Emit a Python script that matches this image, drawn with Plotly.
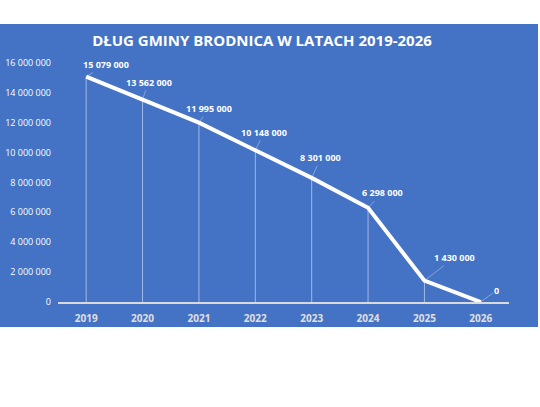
import plotly.graph_objects as go

# Data
years = ["2019", "2020", "2021", "2022", "2023", "2024", "2025", "2026"]
debt = [15079000, 13562000, 11995000, 10148000, 8301000, 6298000, 1430000, 0]
y_ticks = [0, 2000000, 4000000, 6000000, 8000000, 10000000, 12000000, 14000000, 16000000]

# label offsets in pixels (dx, dy) relative to point
label_offsets = [(20, -12), (6, -17), (10, -14), (9, -18), (9, -20), (14, -15), (30, -23), (16, -12)]

W, H = 540, 407
ml, mr, mt, mb = 58, 31, 55, 105
blue = "#4472C4"

fig = go.Figure()

fig.add_trace(go.Scatter(
    x=years,
    y=debt,
    mode="lines",
    line=dict(color="white", width=4),
    error_y=dict(type="data", symmetric=False, array=[0] * len(debt), arrayminus=debt,
                 width=0, thickness=1, color="rgba(255,255,255,0.5)"),
    hoverinfo="x+y",
    showlegend=False,
))

for i, (v, (dx, dy)) in enumerate(zip(debt, label_offsets)):
    fig.add_annotation(
        x=i, y=v, ax=dx, ay=dy,
        xref="x", yref="y",
        text="<b>" + f"{v:,}".replace(",", " ") + "</b>",
        showarrow=True, arrowhead=0, arrowwidth=0.8,
        arrowcolor="rgba(255,255,255,0.45)",
        font=dict(family="Open Sans", size=9, color="white"),
    )

# blue chart area background (bigger than plot area)
pw, ph = W - ml - mr, H - mt - mb
x0, x1 = 0, 538
y_top, y_bot = 24, 327
fig.add_shape(
    type="rect", xref="paper", yref="paper", layer="below",
    x0=(x0 - ml) / pw, x1=(x1 - ml) / pw,
    y0=((H - y_bot) - mb) / ph, y1=((H - y_top) - mb) / ph,
    fillcolor=blue, line=dict(width=0),
)

fig.update_layout(
    width=W, height=H,
    margin=dict(l=ml, r=mr, t=mt, b=mb, autoexpand=False),
    paper_bgcolor="white",
    plot_bgcolor="rgba(0,0,0,0)",
    separators=", ",
    title=dict(
        text="<b>DŁUG GMINY BRODNICA W LATACH 2019-2026</b>",
        x=262 / W, xanchor="center",
        y=1 - 41 / H, yanchor="middle", yref="container",
        font=dict(family="Open Sans", size=15, color="white"),
    ),
)

fig.update_xaxes(
    type="category",
    range=[-0.5, 7.5],
    automargin=False,
    showgrid=False,
    showline=True, linecolor="#D9D9D9", linewidth=1.5,
    zeroline=False,
    ticks="",
    ticklabelstandoff=6,
    tickfont=dict(family="Open Sans", size=10, color="#E0E0E0", weight="bold"),
)

fig.update_yaxes(
    range=[0, (H - mt - mb) / 29.9 * 2000000],
    automargin=False,
    tickvals=y_ticks,
    tickformat=",d",
    showgrid=False,
    zeroline=False,
    showline=False,
    ticks="",
    ticklabelstandoff=6,
    tickfont=dict(family="Open Sans", size=9, color="white"),
)

# drop the default page margin so the figure fills the window
fig.write_html("out.html", config={"displayModeBar": False},
               post_script="document.body.style.margin='0';")
